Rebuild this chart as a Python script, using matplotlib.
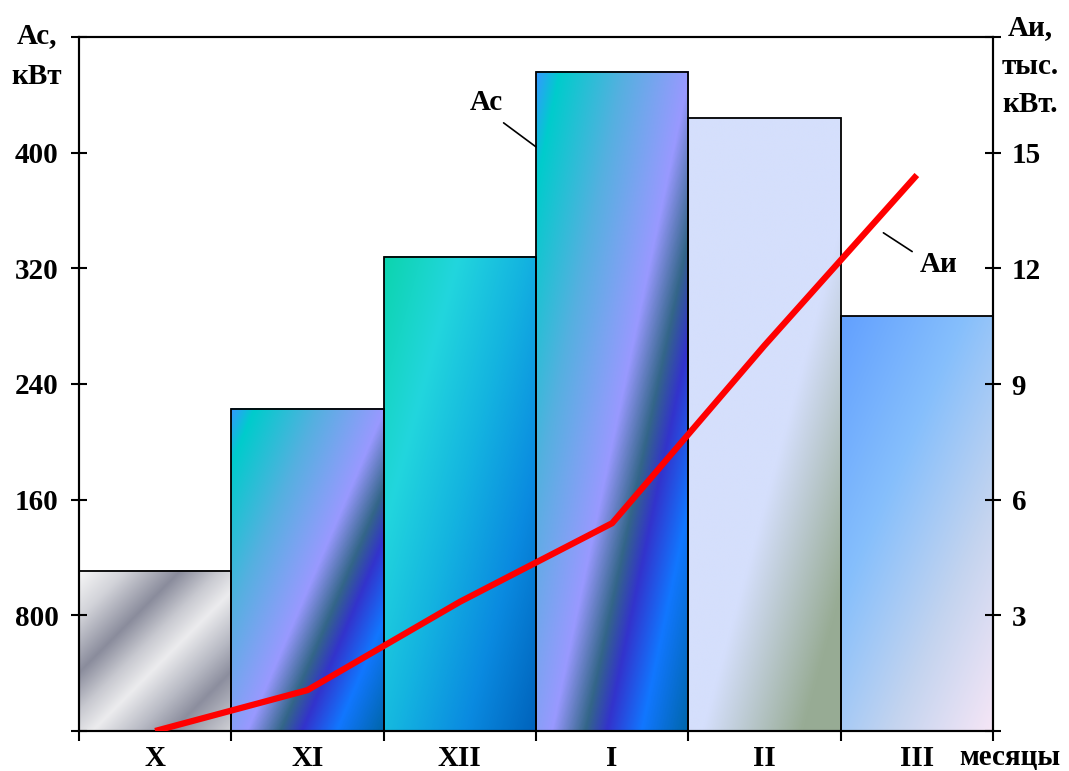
import matplotlib
matplotlib.use("Agg")
import matplotlib.pyplot as plt
import numpy as np
from matplotlib.colors import LinearSegmentedColormap

plt.rcParams["font.family"] = ["Liberation Serif", "DejaVu Serif"]
plt.rcParams["font.weight"] = "bold"
plt.rcParams["font.size"] = 21

# данные
mesyacy = ["X", "XI", "XII", "I", "II", "III"]
ac_kvt = [111, 223, 328, 456, 424, 287]        # Ас, кВт
ai_tys = [0, 1.06, 3.35, 5.39, 10.0, 14.42]    # Аи, тыс. кВт

ac_ticks = [0, 80, 160, 240, 320, 400, 480]
ac_labels = ["", "800", "160", "240", "320", "400", ""]
ai_ticks = [0, 3, 6, 9, 12, 15, 18]
ai_labels = ["", "3", "6", "9", "12", "15", ""]

# градиенты столбцов (k - наклон полос)
zalivki = [
    (1.05, [(0, "#f8f8f8"), (0.15, "#d2d3d9"), (0.325, "#8a8c9c"), (0.45, "#c8c9d0"),
            (0.555, "#ececee"), (0.7, "#b8bac4"), (0.81, "#8c8e9e"), (1, "#d0d1d6")]),
    (0.9, [(0, "#3399ff"), (0.08, "#00cccc"), (0.3, "#55b0e0"), (0.53, "#9999ff"),
           (0.645, "#336688"), (0.72, "#3333cc"), (0.84, "#1177ff"), (1, "#0066aa")]),
    (0.85, [(0, "#0cd4ae"), (0.26, "#22d6dd"), (0.5, "#14b4e0"), (0.75, "#0a8ae0"), (1, "#0062bb")]),
    (0.9, [(0, "#3399ff"), (0.08, "#00cccc"), (0.3, "#55b0e0"), (0.53, "#9999ff"),
           (0.645, "#336688"), (0.72, "#3333cc"), (0.84, "#1177ff"), (1, "#0066aa")]),
    (1.1, [(0, "#d5dffc"), (0.57, "#d5dffc"), (0.88, "#98ac95"), (1, "#97ab94")]),
    (1.2, [(0, "#62a0ff"), (0.37, "#86bffc"), (0.7, "#c4d4ef"), (1, "#f6e6f6")]),
]

fig = plt.figure(figsize=(10.69, 7.71), dpi=100)
ax = fig.add_axes([79 / 1069, 40 / 771, 914 / 1069, 694 / 771])

x = np.arange(len(mesyacy))
stolbcy = ax.bar(x, ac_kvt, width=1.0, fill=False, edgecolor="black", linewidth=1.3, zorder=3)

n = 300
u = np.linspace(0, 1, n)[None, :]
v = np.linspace(1, 0, n)[:, None]
for p, (k, stops) in zip(stolbcy.patches, zalivki):
    t = (u - k * v + k) / (1 + k)
    cmap = LinearSegmentedColormap.from_list("", stops)
    x0, w, h = p.get_x(), p.get_width(), p.get_height()
    ax.imshow(t, cmap=cmap, vmin=0, vmax=1, extent=(x0, x0 + w, 0, h),
              aspect="auto", interpolation="bilinear", zorder=1)

ax.set_xlim(-0.5, len(mesyacy) - 0.5)
ax.set_ylim(0, 480)

ax.set_yticks(ac_ticks)
ax.set_yticklabels(ac_labels)
ax.tick_params(axis="y", direction="inout", length=11, width=1.5, pad=9)

ax.set_xticks(np.arange(len(mesyacy) + 1) - 0.5)
ax.set_xticklabels([])
ax.set_xticks(x, minor=True)
ax.set_xticklabels(mesyacy, minor=True)
ax.tick_params(axis="x", which="major", direction="out", length=7, width=1.5)
ax.tick_params(axis="x", which="minor", length=0, pad=10)

for s in ax.spines.values():
    s.set_linewidth(1.5)

# Аи на правой оси
ax2 = ax.twinx()
ax2.plot(x, ai_tys, color="red", linewidth=4.5, solid_capstyle="butt", zorder=5)
ax2.set_ylim(0, 18)
ax2.set_yticks(ai_ticks)
ax2.set_yticklabels(ai_labels)
ax2.tick_params(axis="y", direction="inout", length=11, width=1.5, pad=8)
for s in ax2.spines.values():
    s.set_linewidth(1.5)

# подписи
ax.annotate("Ас", xy=(2.5, 404), xytext=(-36, 32), textcoords="offset points",
            ha="center", va="center",
            arrowprops=dict(arrowstyle="-", color="black", lw=1.2, relpos=(0.75, 0),
                            shrinkA=5, shrinkB=0))
ax2.annotate("Аи", xy=(4.75, 13.0), xytext=(43, -25), textcoords="offset points",
             ha="center", va="center",
             arrowprops=dict(arrowstyle="-", color="black", lw=1.2, relpos=(0, 0.8),
                             shrinkA=4, shrinkB=4))

fig.text(37 / 1069, 1 - 22 / 771, "Ас,\nкВт", ha="center", va="top", linespacing=1.65)
fig.text(1030 / 1069, 1 - 14 / 771, "Аи,\nтыс.\nкВт.", ha="center", va="top", linespacing=1.55)
fig.text(1010 / 1069, 1 - 758 / 771, "месяцы", ha="center", va="center")

fig.savefig("out.png", dpi=100)
